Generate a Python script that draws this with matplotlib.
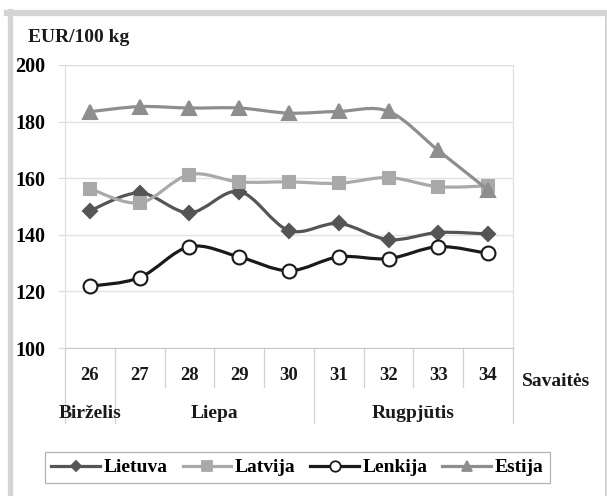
#!/usr/bin/env python3

'''Weekly prices EUR/100 kg, weeks 26-34
'''

import numpy as np
import matplotlib
matplotlib.use('Agg')
import matplotlib.pyplot as plt
from matplotlib.path import Path
from matplotlib.patches import PathPatch
from matplotlib.lines import Line2D
from matplotlib.transforms import blended_transform_factory

weeks = ['26', '27', '28', '29', '30', '31', '32', '33', '34']
months = ['Birželis', 'Liepa', 'Rugpjūtis']
month_spans = [(0, 0), (1, 4), (5, 8)]  # first and last week index of each month

lietuva = [148.5, 154.8, 147.8, 155.3, 141.5, 144.0, 138.3, 140.8, 140.3]
latvija = [156.3, 151.3, 161.3, 158.7, 158.7, 158.2, 160.2, 157.0, 157.3]
lenkija = [121.8, 124.9, 135.8, 132.2, 127.3, 132.2, 131.6, 135.8, 133.4]
estija = [183.5, 185.3, 184.8, 184.8, 183.0, 183.6, 183.6, 169.8, 155.8]

series_names = ['Lietuva', 'Latvija', 'Lenkija', 'Estija']

FONT = 'Liberation Serif'
plt.rcParams['font.family'] = [FONT, 'DejaVu Serif']
plt.rcParams['font.weight'] = 'bold'

fig = plt.figure(figsize=(6.07, 4.96), dpi=100)
ax = fig.add_axes([65/607, 1-348/496, 448/607, 283/496])


def smooth_path(xs, ys):
    # bezier path through the points (like the smoothed lines of a spreadsheet chart)
    pts = np.column_stack([xs, ys]).astype(float)
    n = len(pts)
    verts = [pts[0]]
    codes = [Path.MOVETO]
    for i in range(n - 1):
        p0 = pts[max(i - 1, 0)]
        p1 = pts[i]
        p2 = pts[i + 1]
        p3 = pts[min(i + 2, n - 1)]
        verts += [p1 + (p2 - p0) / 6, p2 - (p3 - p1) / 6, p2]
        codes += [Path.CURVE4] * 3
    return Path(verts, codes)


styles = [
    dict(color='#555555', marker='D', ms=7, mfc='#555555', mec='#555555'),
    dict(color='#a9a9a9', marker='s', ms=9, mfc='#a9a9a9', mec='#a9a9a9'),
    dict(color='#1a1a1a', marker='o', ms=10, mfc='white', mec='#1a1a1a'),
    dict(color='#8e8e8e', marker='^', ms=10.5, mfc='#8e8e8e', mec='#8e8e8e'),
]

x = np.arange(len(weeks))
handles = []
for z, (vals, st, name) in enumerate(zip([lietuva, latvija, lenkija, estija], styles, series_names)):
    ax.add_patch(PathPatch(smooth_path(x, vals), facecolor='none', edgecolor=st['color'],
                           lw=2.3, joinstyle='round', capstyle='round', zorder=3 + z))
    ax.plot(x, vals, linestyle='none', marker=st['marker'], ms=st['ms'],
            mfc=st['mfc'], mec=st['mec'], mew=1.5, zorder=3.5 + z)
    handles.append(Line2D([], [], color=st['color'], lw=2.3, marker=st['marker'],
                          ms=st['ms'] * 0.75, mfc=st['mfc'], mec=st['mec'], mew=1.3))

ax.set_xlim(-0.5, len(weeks) - 0.5)
ax.set_ylim(100, 200)
ax.set_yticks([100, 120, 140, 160, 180, 200])
ax.set_xticks([])
ax.grid(axis='y', color='#e2e2e2', lw=1)
ax.set_axisbelow(True)
for side in ['top', 'right', 'left']:
    ax.spines[side].set_color('#dddddd')
ax.spines['bottom'].set_color('#c8c8c8')
ax.tick_params(axis='y', length=5, color='#dddddd', pad=9, labelsize=14.5)
for lab in ax.get_yticklabels():
    lab.set_fontweight('bold')

# category table under the plot
trans = blended_transform_factory(ax.transData, ax.transAxes)
row1 = -39 / 283
row2 = -75 / 283
month_edges = [s - 0.5 for s, e in month_spans] + [len(weeks) - 0.5]
for b in np.arange(-0.5, len(weeks)):
    bottom = row2 if b in month_edges else row1
    ax.plot([b, b], [0, bottom], color='#d0d0d0', lw=0.9, transform=trans, clip_on=False)
for i, w in enumerate(weeks):
    ax.text(i, -27 / 283, w, transform=trans, ha='center', va='center',
            fontsize=13.5, fontweight='bold', color='#1a1a1a')
for name, (s, e) in zip(months, month_spans):
    ax.text((s + e) / 2, -65 / 283, name, transform=trans, ha='center', va='center',
            fontsize=14, fontweight='bold', color='#1a1a1a')
fig.text(522/607, 1-382/496, 'Savaitės', ha='left', va='center',
         fontsize=14, fontweight='bold', color='#1a1a1a')

fig.text(28/607, 1-38/496, 'EUR/100 kg', ha='left', va='center',
         fontsize=14, fontweight='bold', color='#1a1a1a')

leg = fig.legend(handles, series_names, loc='center', bbox_to_anchor=(297.5/607, 1-467.5/496),
                 ncol=4, frameon=True, fancybox=False, handlelength=2.5, handletextpad=0.2,
                 columnspacing=0.75, borderpad=0.35, prop={'family': FONT, 'weight': 'bold', 'size': 14})
leg.get_frame().set_edgecolor('#a0a0a0')
leg.get_frame().set_linewidth(0.9)

# gray outer frame
fig.add_artist(Line2D([7/607, 1], [1-13/496, 1-13/496], color='#d4d4d4', lw=4.5,
                      transform=fig.transFigure))
fig.add_artist(Line2D([9.5/607, 9.5/607], [0, 1-10.5/496], color='#d4d4d4', lw=3.8,
                      transform=fig.transFigure))
fig.add_artist(Line2D([605.5/607, 605.5/607], [0, 1-11/496], color='#d4d4d4', lw=1.4,
                      transform=fig.transFigure))

fig.savefig('out.png', dpi=100)
